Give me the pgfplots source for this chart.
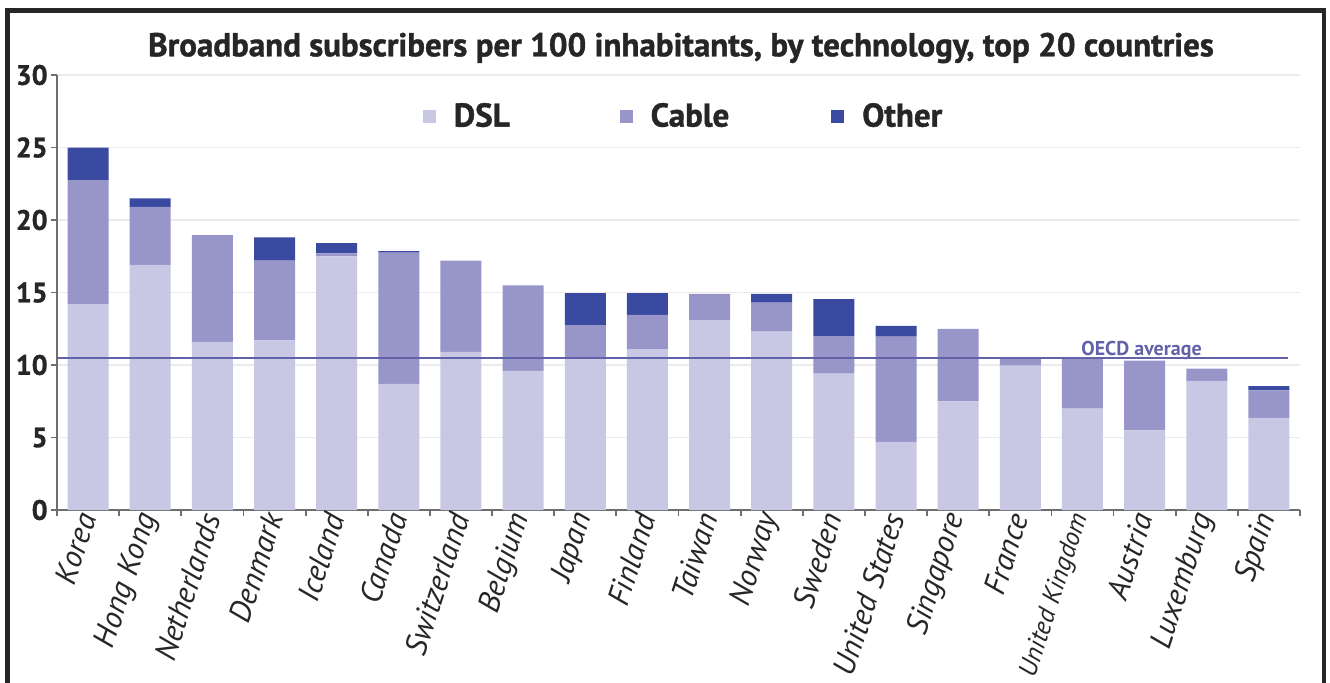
\documentclass[border=0pt]{standalone}
\usepackage{pgfplots}
\pgfplotsset{compat=1.18}
\usepackage{pgfplotstable}
\usepackage{fontspec}
\setmainfont{PT Sans}
\newfontfamily\heavyfont{PT Sans Bold}[FakeBold=1.2]
\definecolor{dsl}{HTML}{C9C8E4}
\definecolor{cable}{HTML}{9895C9}
\definecolor{other}{HTML}{3A4AA0}
\definecolor{oecd}{HTML}{6262AA}
\definecolor{axisgray}{HTML}{6E6E6E}

\pgfplotstableread{
x DSL Cable Other
0 14.2 8.55 2.25
1 16.9 4.0 0.6
2 11.6 7.35 0
3 11.7 5.5 1.6
4 17.5 0.2 0.7
5 8.7 9.05 0.1
6 10.9 6.3 0
7 9.6 5.9 0
8 10.45 2.3 2.2
9 11.1 2.35 1.5
10 13.1 1.8 0
11 12.3 2.0 0.6
12 9.4 2.6 2.55
13 4.7 7.25 0.75
14 7.5 5.0 0
15 9.95 0.5 0
16 7.0 3.4 0
17 5.5 4.8 0
18 8.9 0.85 0
19 6.35 1.9 0.3
}\data

\begin{document}
\begin{tikzpicture}
\useasboundingbox (-28.5pt,-86pt) rectangle (636.5pt,255pt);
\draw[line width=2.4pt, black!85] (-24.75pt,-87pt) -- (-24.75pt,249.75pt) -- (633.5pt,249.75pt) -- (633.5pt,-87pt);
\node[font=\heavyfont\fontsize{16.5}{16.5}\selectfont, text=black!85] at (312pt,231pt) {Broadband subscribers per 100 inhabitants, by technology, top 20 countries};
\begin{axis}[
  scale only axis, width=621.5pt, height=217.5pt,
  xmin=-0.5, xmax=19.5, ymin=0, ymax=30,
  ybar stacked, bar width=20.5pt,
  axis lines=left,
  axis line style={-, draw=axisgray, line width=1.3pt},
  ytick={0,5,...,30},
  yticklabels={0,5,10,15,20,25,30},
  yticklabel style={font=\heavyfont\fontsize{14}{14}\selectfont, text=black!85, inner sep=1.5pt},
  tick align=outside,
  major tick length=3pt,
  tick style={draw=axisgray, line width=0.9pt},
  ymajorgrids,
  major grid style={draw=gray!16, line width=0.8pt},
  xtick={-0.5,0.5,...,19.5},
  xticklabel=\empty,
  extra x ticks={0,1,...,19},
  extra x tick labels={Korea,Hong Kong,Netherlands,Denmark,Iceland,Canada,Switzerland,Belgium,Japan,Finland,Taiwan,Norway,Sweden,United States,Singapore,France,{\fontsize{13}{13}\selectfont United Kingdom},Austria,Luxemburg,Spain},
  extra x tick style={major tick length=0pt, grid=none},
  xticklabel style={rotate=72, anchor=east, font=\itshape\fontsize{15.5}{15.5}\selectfont, text=black!85, inner sep=2pt},
  legend columns=3,
  legend style={draw=none, fill=none, at={(0.5065,0.905)}, anchor=center,
    font=\heavyfont\fontsize{16.5}{16.5}\selectfont, text=black!85,
    /tikz/column 1/.style={column sep=5pt},
    /tikz/column 2/.style={column sep=51pt},
    /tikz/column 3/.style={column sep=5pt},
    /tikz/column 4/.style={column sep=47pt},
    /tikz/column 5/.style={column sep=5pt},
    nodes={inner xsep=4pt}},
  legend image code/.code={\draw[#1, draw=none] (0pt,-3.25pt) rectangle (6.5pt,3.25pt);},
]
\addplot[fill=dsl, draw=none] table[x=x, y=DSL] {\data};
\addplot[fill=cable, draw=none] table[x=x, y=Cable] {\data};
\addplot[fill=other, draw=none] table[x=x, y=Other] {\data};
\legend{DSL, Cable, Other}
\end{axis}
\begin{axis}[
  scale only axis, width=621.5pt, height=217.5pt,
  xmin=-0.5, xmax=19.5, ymin=0, ymax=30,
  hide axis,
]
\addplot[oecd, line width=1.1pt, no marks] coordinates {(-0.5,10.5) (19.3,10.5)};
\node[font=\bfseries\fontsize{10}{10}\selectfont, text=oecd, anchor=base] at (axis cs:16.95,10.68) {OECD average};
\end{axis}
\end{tikzpicture}
\end{document}
